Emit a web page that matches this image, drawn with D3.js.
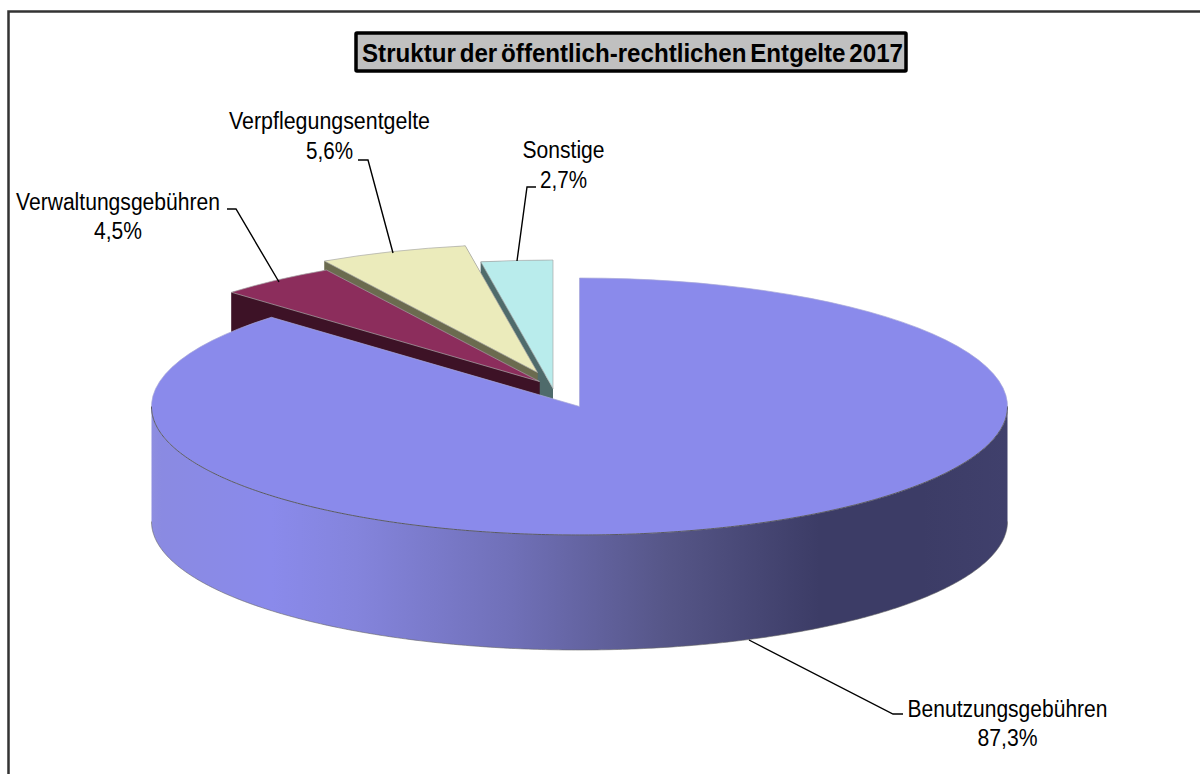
<!DOCTYPE html>
<html><head><meta charset="utf-8">
<script src="https://cdn.jsdelivr.net/npm/d3@7"></script>
<style>html,body{margin:0;background:#fff}svg{display:block}text{font-family:"Liberation Sans",Arial,sans-serif;fill:#000}</style>
</head><body><svg id="c" width="1200" height="774"></svg>
<script>
const categories=["Benutzungsgebühren","Verwaltungsgebühren","Verpflegungsentgelte","Sonstige"];
const shares=[87.3,4.5,5.6,2.7];
const valueLabels=["87,3%","4,5%","5,6%","2,7%"];
const topColors=["#8a8aeb","#8c2d5c","#ebebbb","#b9ecec"];
const wallColors=["#3c3c66","#3d1226","#6b6b4f","#4f6b6b"];
const titleText="Struktur der öffentlich-rechtlichen Entgelte 2017";

const svg=d3.select("#c");
const W=1200,H=774;
const cx=579.5,cy=406.5,rx=428,ry=128.5,depth=115;
const offsets=[[0,0],[-40,-25],[-42,-34],[-26.5,-18]];
const labelLayout=[
 {x:1007.5,y:[717,746],w:[200,60],leader:[[749,640],[893,714],[903,714]]},
 {x:118,y:[210,239],w:[204,48],leader:[[279,282],[236,209],[227,209]]},
 {x:329.5,y:[129,159],w:[201,47],leader:[[393,253],[368,160],[358,160]]},
 {x:563.5,y:[158,188],w:[82,47],leader:[[517,261],[527,187],[536,187]]}
];

const defs=svg.append("defs");
const grad=defs.append("linearGradient").attr("id","wall").attr("gradientUnits","userSpaceOnUse")
 .attr("x1",cx-rx).attr("x2",cx+rx).attr("y1",0).attr("y2",0);
[[0,"#8e8ee0"],[0.012,"#8a8ae2"],[0.14,"#8a8aeb"],[0.24,"#8484dc"],[0.42,"#7070b8"],[0.6,"#565688"],[0.78,"#3c3c66"],[0.9,"#3c3c66"],[1,"#40406c"]]
 .forEach(s=>grad.append("stop").attr("offset",s[0]).attr("stop-color",s[1]));

svg.append("path").attr("d",`M${W+5},11.5 H8.5 V${H+5}`).attr("fill","none").attr("stroke","#333").attr("stroke-width",2.5);

// pie layout, no sorting: clockwise from 12 o'clock
const pie=d3.pie().sort(null).value(d=>d);
const arcs=pie(shares);
const arcGen=d3.arc().innerRadius(0).outerRadius(rx);
const k=ry/rx;
const pt=(a,r=1,ox=0,oy=0,dz=0)=>[cx+ox+rx*r*Math.sin(a),cy+oy-ry*r*Math.cos(a)+dz];
const line=d3.line();

// paint back to front: Sonstige, Verpflegung, Verwaltung, Benutzung
[3,2,1,0].forEach(i=>{
 const a=arcs[i],[ox,oy]=offsets[i];
 const g=svg.append("g").attr("class","slice");
 let s=null;
 if(i===0){
  const start=Math.PI/2,end=Math.min(a.endAngle,Math.PI*1.5);
  s=d3.range(start,end,0.01).concat(end);
  const poly=s.map(t=>pt(t)).concat(s.slice().reverse().map(t=>pt(t,1,0,0,depth)));
  g.append("path").attr("d",line(poly)+"Z").attr("fill","url(#wall)");
  g.append("path").attr("d",line(s.map(t=>pt(t,1,0,0,depth)))).attr("fill","none").attr("stroke","#666").attr("stroke-width",.6);
 } else {
  const apex=[cx+ox,cy+oy];
  const wall=[pt(a.startAngle,1,ox,oy),pt(a.endAngle,1,ox,oy),pt(a.endAngle,1,ox,oy,depth),pt(a.startAngle,1,ox,oy,depth)];
  const radial=[apex,pt(a.startAngle,1,ox,oy),pt(a.startAngle,1,ox,oy,depth),[apex[0],apex[1]+depth]];
  const radial2=[apex,pt(a.endAngle,1,ox,oy),pt(a.endAngle,1,ox,oy,depth),[apex[0],apex[1]+depth]];
  [wall,radial,radial2].forEach(p=>g.append("path").attr("d",line(p)+"Z").attr("fill",wallColors[i]));
 }
 g.append("path")
  .attr("transform",`translate(${cx+ox},${cy+oy}) scale(1,${k})`)
  .attr("d",arcGen(a)).attr("fill",topColors[i])
  .attr("stroke",i===0?"#a8a8d8":"#aaa").attr("stroke-width",.7).attr("vector-effect","non-scaling-stroke");
 if(s) g.append("path").attr("d",line(s.map(t=>pt(t)))).attr("fill","none").attr("stroke","#444").attr("stroke-width",.8);
});

labelLayout.forEach(l=>svg.append("path").attr("d",line(l.leader)).attr("fill","none").attr("stroke","#000").attr("stroke-width",1.4));

categories.forEach((c,i)=>{
 const l=labelLayout[i];
 [c,valueLabels[i]].forEach((txt,j)=>svg.append("text").attr("x",l.x).attr("y",l.y[j])
  .attr("text-anchor","middle").attr("font-size",23)
  .attr("textLength",l.w[j]).attr("lengthAdjust","spacingAndGlyphs").text(txt));
});

svg.append("rect").attr("x",356).attr("y",33).attr("width",550).attr("height",38).attr("fill","#c0c0c0").attr("stroke","#000").attr("stroke-width",3.5).attr("rx",1);
svg.append("text").attr("x",632.5).attr("y",62).attr("text-anchor","middle").attr("font-size",25.5).attr("font-weight","bold")
 .attr("word-spacing",-3).attr("textLength",541).attr("lengthAdjust","spacingAndGlyphs").text(titleText);
</script></body></html>
